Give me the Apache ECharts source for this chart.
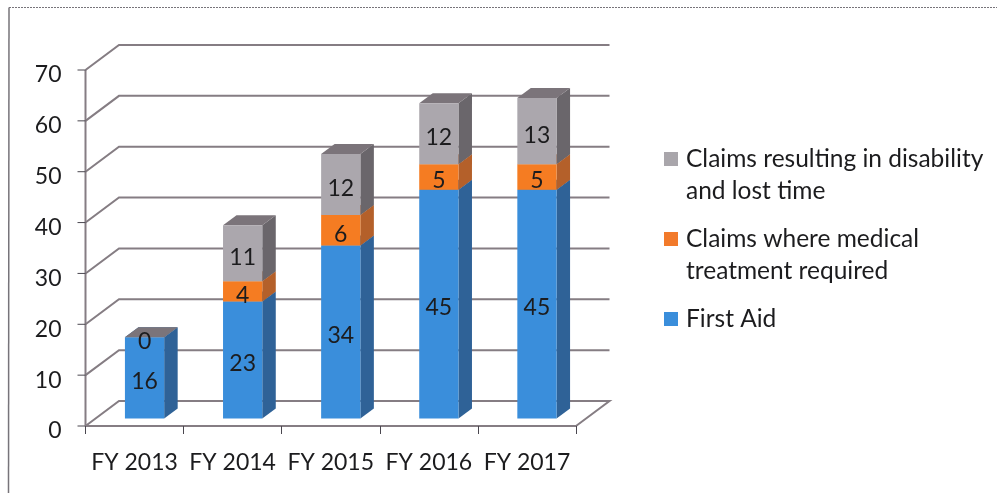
<!DOCTYPE html>
<html>
<head>
<meta charset="utf-8">
<style>
  html, body { margin: 0; padding: 0; background: #fff; }
  #chart { width: 997px; height: 493px; }
</style>
<script src="https://cdn.jsdelivr.net/npm/echarts@6/dist/echarts.min.js"></script>
</head>
<body>
<div id="chart"></div>
<script>
const categories = ["FY 2013", "FY 2014", "FY 2015", "FY 2016", "FY 2017"];
const firstAid = [16, 23, 34, 45, 45];
const medical = [null, 4, 6, 5, 5];
const disability = [0, 11, 12, 12, 13];
const yTicks = [0, 10, 20, 30, 40, 50, 60, 70];

const nameFirstAid = "First Aid";
const nameMedical = "Claims where medical\ntreatment required";
const nameDisability = "Claims resulting in disability\nand lost time";

const FONT = "Lato";
const TEXT = "#1c1c1e";
const LINE = "#857d83";
const TICK = "#4a474f";

// 假3D的偏移量
const WALL = [33.5, -25];
const BAR_FRONT = [10, -7.5];
const BAR_DEPTH = [13.5, -10];
const BAR_RATIO = 0.4;

// 堆叠：每段是 [类目, 起点, 终点, 原值]
function stackRows(values, below) {
  const rows = [];
  values.forEach((v, i) => {
    if (v === null) return;
    rows.push([i, below[i], below[i] + v, v]);
  });
  return rows;
}
const base0 = categories.map(() => 0);
const base1 = firstAid.map((v) => v);
const base2 = firstAid.map((v, i) => v + (medical[i] || 0));

function barRenderer(front, side, top) {
  return function (params, api) {
    const size = api.size([1, 0])[0] * BAR_RATIO;
    const low = api.coord([api.value(0), api.value(1)]);
    const high = api.coord([api.value(0), api.value(2)]);
    const x0 = low[0] + BAR_FRONT[0] - size / 2;
    const x1 = x0 + size;
    const y0 = low[1] + BAR_FRONT[1];
    const y1 = high[1] + BAR_FRONT[1];
    const dx = BAR_DEPTH[0];
    const dy = BAR_DEPTH[1];
    return {
      type: "group",
      children: [
        { type: "polygon", shape: { points: [[x1, y0], [x1 + dx, y0 + dy], [x1 + dx, y1 + dy], [x1, y1]] }, style: { fill: side } },
        { type: "polygon", shape: { points: [[x0, y1], [x1, y1], [x1 + dx, y1 + dy], [x0 + dx, y1 + dy]] }, style: { fill: top } },
        { type: "rect", shape: { x: x0, y: y1, width: size, height: y0 - y1 }, style: { fill: front } },
        {
          type: "text",
          z2: 10,
          style: {
            text: String(api.value(3)),
            x: (x0 + x1) / 2,
            y: (y0 + y1) / 2 + 4,
            align: "center",
            verticalAlign: "middle",
            fill: TEXT,
            font: "23px " + FONT,
          },
        },
      ],
    };
  };
}

// 背墙和地面的网格线，左边的竖轴和刻度也在这里画
function wallRenderer(params, api) {
  const sys = params.coordSys;
  const value = api.value(0);
  const p = api.coord([0, value]);
  const left = sys.x;
  const right = sys.x + sys.width;
  const backY = p[1] + WALL[1];
  const pts = [[left, p[1]], [left + WALL[0], backY], [right + WALL[0], backY]];
  if (value === 0) pts.push([right, p[1]]);
  const children = [
    { type: "polyline", shape: { points: pts }, style: { fill: null, stroke: LINE, lineWidth: 2 } },
    { type: "line", shape: { x1: left - 8, y1: p[1], x2: left, y2: p[1] }, style: { stroke: TICK, lineWidth: 1 } },
  ];
  if (value === 0) {
    const topY = api.coord([0, yTicks[yTicks.length - 1]])[1];
    children.push({ type: "line", shape: { x1: left, y1: p[1], x2: left, y2: topY }, style: { stroke: LINE, lineWidth: 2 } });
  }
  return { type: "group", children };
}

const chart = echarts.init(document.getElementById("chart"), null, { renderer: "canvas" });
chart.setOption({
  animation: false,
  backgroundColor: "#ffffff",
  grid: { left: 85.5, top: 70, width: 490.5, height: 356, show: false },
  xAxis: {
    type: "category",
    data: categories,
    z: 5,
    axisLine: { show: true, onZero: false, lineStyle: { color: LINE, width: 2 } },
    axisTick: { show: true, length: 8, lineStyle: { color: TICK, width: 1 } },
    axisLabel: { color: TEXT, fontFamily: FONT, fontSize: 23, margin: 25, interval: 0 },
  },
  yAxis: {
    type: "value",
    min: 0,
    max: 70,
    interval: 10,
    axisLine: { show: false },
    axisTick: { show: false },
    axisLabel: {
      margin: 24,
      formatter: "{a|{value}}",
      rich: { a: { color: TEXT, fontFamily: FONT, fontSize: 23, padding: [10, 0, 0, 0] } },
    },
    splitLine: { show: false },
  },
  legend: [
    {
      left: 664,
      top: 143,
      orient: "vertical",
      data: [nameDisability, nameMedical],
      // 图标只占上面一行的高度
      icon: "path://M0 0H14V14H0Z M0 46L0 46",
      itemWidth: 14,
      itemHeight: 46,
      itemGap: 16,
      padding: 0,
      textStyle: { color: TEXT, fontFamily: FONT, fontSize: 24.5, lineHeight: 32, padding: [0, 0, 0, 3] },
    },
    {
      left: 664,
      top: 303,
      data: [nameFirstAid],
      icon: "rect",
      itemWidth: 14,
      itemHeight: 14,
      padding: 0,
      textStyle: { color: TEXT, fontFamily: FONT, fontSize: 24.5, lineHeight: 32, padding: [0, 0, 0, 3] },
    },
  ],
  graphic: [
    { type: "line", shape: { x1: 9, y1: 7.5, x2: 997, y2: 7.5 }, style: { stroke: "#77747a", lineWidth: 1, lineDash: [2, 1] } },
    { type: "line", shape: { x1: 9, y1: 7.5, x2: 8.5, y2: 493 }, style: { stroke: "#77747a", lineWidth: 1.5 } },
  ],
  series: [
    { type: "custom", name: "wall", silent: true, data: yTicks.map((t) => [t]), encode: { y: 0 }, renderItem: wallRenderer, z: 1 },
    {
      type: "custom",
      name: nameFirstAid,
      itemStyle: { color: "#3a8edb" },
      data: stackRows(firstAid, base0),
      encode: { x: 0, y: [1, 2] },
      renderItem: barRenderer("#3a8edb", "#2f6297", "#2f6297"),
      z: 2,
    },
    {
      type: "custom",
      name: nameMedical,
      itemStyle: { color: "#f27a2b" },
      data: stackRows(medical, base1),
      encode: { x: 0, y: [1, 2] },
      renderItem: barRenderer("#f57c22", "#b4602a", "#b4602a"),
      z: 2,
    },
    {
      type: "custom",
      name: nameDisability,
      itemStyle: { color: "#a9a6ab" },
      data: stackRows(disability, base2),
      encode: { x: 0, y: [1, 2] },
      renderItem: barRenderer("#aba7ad", "#6a666b", "#7b747a"),
      z: 2,
    },
  ],
});
</script>
</body>
</html>
